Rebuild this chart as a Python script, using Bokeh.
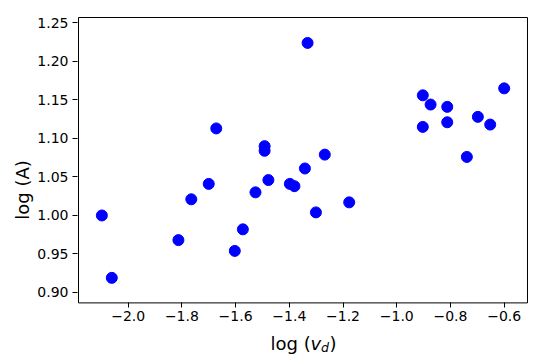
from bokeh.plotting import figure
from bokeh.models import FixedTicker, Range1d, Label
from bokeh.embed import file_html
from bokeh.resources import INLINE

log_vd = [-2.098, -2.061, -1.813, -1.765, -1.700, -1.672, -1.603, -1.573, -1.526,
          -1.492, -1.492, -1.478, -1.398, -1.381, -1.342, -1.332, -1.301, -1.268,
          -1.177, -0.903, -0.903, -0.874, -0.812, -0.812, -0.739, -0.698, -0.652, -0.600]
log_A = [1.000, 0.919, 0.968, 1.021, 1.041, 1.113, 0.954, 0.982, 1.030,
         1.090, 1.084, 1.046, 1.041, 1.038, 1.061, 1.224, 1.004, 1.079,
         1.017, 1.156, 1.115, 1.144, 1.141, 1.121, 1.076, 1.128, 1.118, 1.165]

x_ticks = [-2.0, -1.8, -1.6, -1.4, -1.2, -1.0, -0.8, -0.6]
x_tick_labels = ["\u22122.0", "\u22121.8", "\u22121.6", "\u22121.4", "\u22121.2", "\u22121.0", "\u22120.8", "\u22120.6"]
y_ticks = [0.90, 0.95, 1.00, 1.05, 1.10, 1.15, 1.20, 1.25]
y_tick_labels = ["0.90", "0.95", "1.00", "1.05", "1.10", "1.15", "1.20", "1.25"]

FONT = "DejaVu Sans"

# visible axes box (data limits)
X0, X1 = -2.185, -0.5132
Y0, Y1 = 0.8865, 1.257
PX_X = 268.57   # pixels per x unit
PX_Y = 770.3    # pixels per y unit

W, H = 545, 363
LEFT, TOP = 77, 16            # drawing area starts 1px outside the box
RIGHT_PX = 528                # drawing area right edge
frame_w = RIGHT_PX - LEFT
frame_h = H - TOP

x_start = X0 - 1 / PX_X
x_end = x_start + frame_w / PX_X
y_end = Y1 + 1 / PX_Y
y_start = y_end - frame_h / PX_Y

p = figure(width=W, height=H, output_backend="svg", toolbar_location=None,
           x_range=Range1d(x_start, x_end), y_range=Range1d(y_start, y_end),
           min_border_left=LEFT, min_border_right=W - RIGHT_PX,
           min_border_top=TOP, min_border_bottom=0)
p.background_fill_color = "white"
p.border_fill_color = "white"
p.outline_line_color = None
p.grid.visible = False

# axes box
p.quad(left=[X0], right=[X1], bottom=[Y0], top=[Y1], fill_color=None,
       line_color="black", line_width=1)

p.scatter(log_vd, log_A, size=11, color="#0000ff", line_color="#0000ff")

for ax in (p.xaxis[0], p.yaxis[0]):
    ax.axis_line_color = None
    ax.major_tick_line_color = "black"
    ax.major_tick_out = 5
    ax.major_tick_in = 0
    ax.minor_tick_line_color = None
    ax.major_label_text_font = FONT
    ax.major_label_text_font_size = "14px"
    ax.major_label_text_color = "black"
    ax.major_label_standoff = 4
    ax.axis_label_text_font = FONT
    ax.axis_label_text_font_size = "18px"
    ax.axis_label_text_font_style = "normal"
    ax.axis_label_text_color = "black"

p.xaxis.fixed_location = Y0
p.xaxis.major_label_standoff = 3
p.xaxis.ticker = FixedTicker(ticks=x_ticks)
p.xaxis.major_label_overrides = dict(zip(x_ticks, x_tick_labels))
p.yaxis.ticker = FixedTicker(ticks=y_ticks)
p.yaxis.major_label_overrides = dict(zip(y_ticks, y_tick_labels))
p.yaxis.axis_label = "log (A)"
p.yaxis.axis_label_standoff = 1

# x-axis label "log (v_d)" with italic v and subscript d (screen px from drawing-area bottom-left)
pieces = [("log (", 193, 20, "normal", "18px"),
          ("v", 233, 20, "italic", "18px"),
          ("d", 243.5, 16.5, "italic", "12.6px"),
          (")", 252, 20, "normal", "18px")]
for txt, sx, sy, style, size in pieces:
    p.add_layout(Label(x=sx, y=sy, x_units="screen", y_units="screen", text=txt,
                       text_font=FONT, text_font_size=size, text_font_style=style,
                       text_color="black", text_align="left", text_baseline="alphabetic"))

open("out.html", "w").write(file_html(p, INLINE))
